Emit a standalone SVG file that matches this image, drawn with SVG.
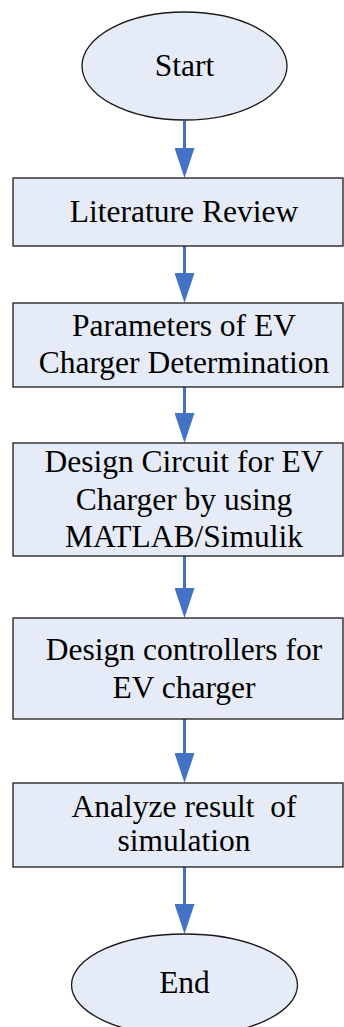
<svg xmlns="http://www.w3.org/2000/svg" width="344" height="1027" viewBox="0 0 344 1027">
<style>
.shape{fill:#E6ECF7;stroke:#1a1a1a;stroke-width:1.3}
.lbl{font-family:"Liberation Serif","Times New Roman",serif;font-size:31.5px;fill:#000;text-anchor:middle;white-space:pre}
.conn{stroke:#4472C4;stroke-width:3;fill:none;marker-end:url(#ah)}
</style>
<defs>
<marker id="ah" markerUnits="userSpaceOnUse" markerWidth="30" markerHeight="20" viewBox="0 0 30 20" refX="0" refY="10" orient="auto">
<polygon points="0,0 30,10 0,20" fill="#4472C4"/>
</marker>
</defs>
<rect width="344" height="1027" fill="#fff"/>
<g id="connectors">
<line class="conn" x1="184.5" y1="121" x2="184.5" y2="148"/>
<line class="conn" x1="184.5" y1="246" x2="184.5" y2="273"/>
<line class="conn" x1="184.5" y1="387" x2="184.5" y2="413"/>
<line class="conn" x1="184.5" y1="556" x2="184.5" y2="588"/>
<line class="conn" x1="184.5" y1="719" x2="184.5" y2="753"/>
<line class="conn" x1="184.5" y1="867" x2="184.5" y2="904"/>
</g>
<g id="start">
<ellipse class="shape" cx="184.5" cy="66" rx="102.5" ry="54"/>
<text class="lbl" x="184.5" y="76">Start</text>
</g>
<g id="literature">
<rect class="shape" x="13" y="178" width="330" height="68"/>
<text class="lbl" x="184" y="222">Literature Review</text>
</g>
<g id="parameters">
<rect class="shape" x="13" y="303" width="330" height="84"/>
<text class="lbl" x="184" y="336">Parameters of EV</text>
<text class="lbl" x="184" y="373">Charger Determination</text>
</g>
<g id="design-circuit">
<rect class="shape" x="13" y="443" width="330" height="113"/>
<text class="lbl" x="184" y="472">Design Circuit for EV</text>
<text class="lbl" x="184" y="510">Charger by using</text>
<text class="lbl" x="184" y="547">MATLAB/Simulik</text>
</g>
<g id="design-controllers">
<rect class="shape" x="13" y="618" width="330" height="101"/>
<text class="lbl" x="184" y="660">Design controllers for</text>
<text class="lbl" x="184" y="698">EV charger</text>
</g>
<g id="analyze">
<rect class="shape" x="13" y="783" width="330" height="84"/>
<text class="lbl" x="184" y="817" xml:space="preserve">Analyze result  of</text>
<text class="lbl" x="184" y="851">simulation</text>
</g>
<g id="end">
<ellipse class="shape" cx="184.5" cy="985" rx="113" ry="51"/>
<text class="lbl" x="184.5" y="993">End</text>
</g>
</svg>
